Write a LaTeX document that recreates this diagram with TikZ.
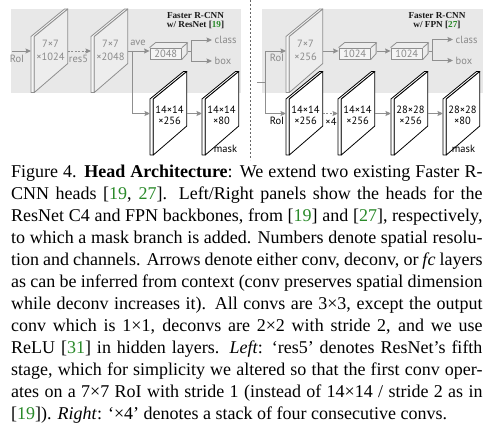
\documentclass[tikz,border=0pt]{standalone}
\usepackage{fontspec}
\setmainfont{Liberation Serif}
\newfontfamily\dsf{PT Sans}
\usetikzlibrary{arrows.meta}
\definecolor{bgg}{HTML}{E8E8E8}
\definecolor{gface}{HTML}{EDEDED}
\definecolor{gstrip}{HTML}{F4F4F4}
\definecolor{lng}{HTML}{8F8F8F}
\definecolor{txg}{HTML}{8A8A8A}
\definecolor{citeg}{HTML}{2A8A2A}
\newcommand\ct[1]{\textcolor{citeg}{#1}}
% #1 name #2 x #3 y #4 strip fill #5 face fill #6 line colour #7 text style #8 text y #9 text
\newcommand\slabdraw[9]{%
\begin{scope}[shift={(#2,#3)}]
 \filldraw[fill=#4, draw=#6, line width=0.8pt, line join=round] (0,56) -- (0,0) -- (33.5,-27.5) -- (36.8,-27.5) -- (3.3,0) -- (3.3,56) -- cycle;
 \filldraw[fill=#5, draw=#6, line width=0.8pt, line join=round] (3.3,0) -- (36.8,-27.5) -- (36.8,27) -- (3.3,56) -- cycle;
 \coordinate (#1-in) at (0,14.5);
 \coordinate (#1-out) at (36.8,14.5);
 \node[#7] (#1) at (19.5,#8) {#9};
\end{scope}}
\newcommand\gslab[4]{\slabdraw{#1}{#2}{#3}{gstrip}{gface}{lng}{gtxt}{13.5}{#4}}
\newcommand\wslab[4]{\slabdraw{#1}{#2}{#3}{white}{white}{black}{wtxt}{16.5}{#4}}
% cuboid: #1 name #2 front-left x #3 text
\newcommand\cub[3]{%
 \fill[gface] ({#2},48) -- ++(6,-5) -- ++(31.5,0) -- ++(0,11) -- ++(-6,5) -- ++(-31.5,0) -- cycle;
 \node[cubst] (#1) at ({#2+15.75},53.5) {#3};
 \draw[draw=lng, line width=0.8pt, line join=round] (#1.north west) -- ++(6,-5) -- ++(31.5,0) -- ++(0,11) -- (#1.south east);
 \draw[draw=lng, line width=0.8pt] (#1.north east) -- ++(6,-5);
 \coordinate (#1-r) at ([xshift=6pt,yshift=2.5pt]#1.east);
}
\tikzset{
 gtxt/.style={text=txg, font=\dsf\fontsize{10.5}{13}\selectfont, align=center, inner sep=0},
 wtxt/.style={text=black, font=\dsf\fontsize{10.5}{11}\selectfont, align=center, inner sep=0},
 cubst/.style={draw=lng, fill=white!40!gface, line width=0.8pt, minimum width=31.5pt, minimum height=11pt, inner sep=0, text=txg, font=\dsf\fontsize{10.5}{10}\selectfont},
 garrow/.style={draw=lng, line width=0.9pt, -{Stealth[length=5.5pt,width=5pt,inset=0.8pt]}},
 gline/.style={draw=lng, line width=0.9pt},
 dsharrow/.style={garrow, dash pattern=on 2pt off 1.5pt},
 glab/.style={text=txg, font=\dsf\fontsize{10.5}{10}\selectfont, inner sep=0},
 klab/.style={text=black, font=\dsf\fontsize{10.5}{10}\selectfont, inner sep=0},
 ttl/.style={text=black!90, font=\bfseries\fontsize{9.2}{9.4}\selectfont, align=center, inner sep=0},
 capl/.style={anchor=base west, inner sep=0, font=\fontsize{18}{22}\selectfont},
}
\begin{document}
\begin{tikzpicture}[x=1pt,y=-1pt]
\useasboundingbox[fill=white] (0,0) rectangle (504,430);
% backgrounds
\fill[bgg] (11,9) rectangle (241,93);
\fill[bgg] (262,9) rectangle (483,93);
\coordinate (sepT) at (250.5,0);
\coordinate (sepB) at (250.5,160);
\draw[draw=black!60, line width=0.7pt, dash pattern=on 2pt off 2pt] (sepT) -- (sepB);
% titles
\node[ttl] (t1) at (195.5,20.5) {Faster R-CNN\\w/ ResNet [\ct{19}]};
\node[ttl] (t2) at (437,20.5) {Faster R-CNN\\w/ FPN [\ct{27}]};
% left panel
\gslab{s1}{31}{36.5}{7×7\\×1024}
\gslab{s2}{91}{36.5}{7×7\\×2048}
\wslab{s3}{150}{99}{14×14\\×256}
\wslab{s4}{202}{99}{14×14\\×80}
\cub{b1}{150}{2048}
\coordinate (j0) at (12,51);
\coordinate (j1) at (132,51);
\coordinate (j2) at (191,51);
\draw[garrow] (j0) -- (s1-in);
\node[glab] (roi1) at (17,58.5) {RoI};
\draw[dsharrow] (s1-out) -- (s2-in);
\node[glab] (res5) at (78.5,58.5) {res5};
\draw[garrow] (s2-out) -- (s2-out -| b1.west);
\node[glab] (ave) at (138,43) {ave};
\draw[garrow] (j1) |- (s3-in);
\draw[gline] (b1-r) -- (j2);
\node[glab, anchor=west, inner sep=2.5pt] (cls1) at (212,40) {class};
\node[glab, anchor=west, inner sep=2.5pt] (box1) at (212,61) {box};
\draw[garrow] (j2) |- (cls1.west);
\draw[garrow] (j2) |- (box1.west);
\draw[garrow] (s3-out) -- (s4-in);
\node[klab] (mask1) at (225.5,149) {mask};
% right panel
\gslab{r1}{286}{36.5}{7×7\\×256}
\wslab{ra}{286}{99}{14×14\\×256}
\wslab{rb}{338}{99}{14×14\\×256}
\wslab{rc}{391}{99}{28×28\\×256}
\wslab{rd}{443}{99}{28×28\\×80}
\cub{c1}{339}{1024}
\cub{c2}{391}{1024}
\coordinate (j3) at (257,82);
\coordinate (j4) at (265,82);
\coordinate (j5) at (432,51);
\draw[gline] (j3) -- (j4);
\draw[garrow] (j4) |- (r1-in);
\draw[garrow] (j4) |- (ra-in);
\node[glab] (roi2) at (277,57.5) {RoI};
\node[klab] (roi3) at (277,121) {RoI};
\draw[garrow] (r1-out) -- (r1-out -| c1.west);
\draw[garrow] (c1-r) -- (c1-r -| c2.west);
\draw[gline] (c2-r) -- (j5);
\node[glab, anchor=west, inner sep=2.5pt] (cls2) at (453,39.5) {class};
\node[glab, anchor=west, inner sep=2.5pt] (box2) at (453,60.5) {box};
\draw[garrow] (j5) |- (cls2.west);
\draw[garrow] (j5) |- (box2.west);
\draw[dsharrow] (ra-out) -- (rb-in);
\node[klab] (x4) at (331,122) {×4};
\draw[garrow] (rb-out) -- (rc-in);
\draw[garrow] (rc-out) -- (rd-in);
\node[klab] (mask2) at (463.5,149) {mask};
% caption
\node[capl] (l1) at (11,177.5) {\makebox[471.3pt][s]{Figure 4. \textbf{Head Architecture}: We extend two existing Faster R-}};
\node[capl] (l2) at (11,199.53) {\makebox[471.3pt][s]{CNN heads [\ct{19}, \ct{27}]. Left/Right panels show the heads for the}};
\node[capl] (l3) at (11,221.56) {\makebox[471.3pt][s]{ResNet C4 and FPN backbones, from [\ct{19}] and [\ct{27}], respectively,}};
\node[capl] (l4) at (11,243.59) {\makebox[471.3pt][s]{to which a mask branch is added. Numbers denote spatial resolu-}};
\node[capl] (l5) at (11,265.62) {\makebox[471.3pt][s]{tion and channels. Arrows denote either conv, deconv, or \textit{fc} layers}};
\node[capl] (l6) at (11,287.65) {\makebox[471.3pt][s]{as can be inferred from context (conv preserves spatial dimension}};
\node[capl] (l7) at (11,309.68) {\makebox[471.3pt][s]{while deconv increases it). All convs are 3×3, except the output}};
\node[capl] (l8) at (11,331.71) {\makebox[471.3pt][s]{conv which is 1×1, deconvs are 2×2 with stride 2, and we use}};
\node[capl] (l9) at (11,353.74) {\makebox[471.3pt][s]{ReLU [\ct{31}] in hidden layers. \textit{Left}: ‘res5’ denotes ResNet’s fifth}};
\node[capl] (l10) at (11,375.77) {\makebox[471.3pt][s]{stage, which for simplicity we altered so that the first conv oper-}};
\node[capl] (l11) at (11,397.8) {\makebox[471.3pt][s]{ates on a 7×7 RoI with stride 1 (instead of 14×14 / stride 2 as in}};
\node[capl] (l12) at (11,419.83) {[\ct{19}]). \textit{Right}: ‘×4’ denotes a stack of four consecutive convs.};
\end{tikzpicture}
\end{document}
